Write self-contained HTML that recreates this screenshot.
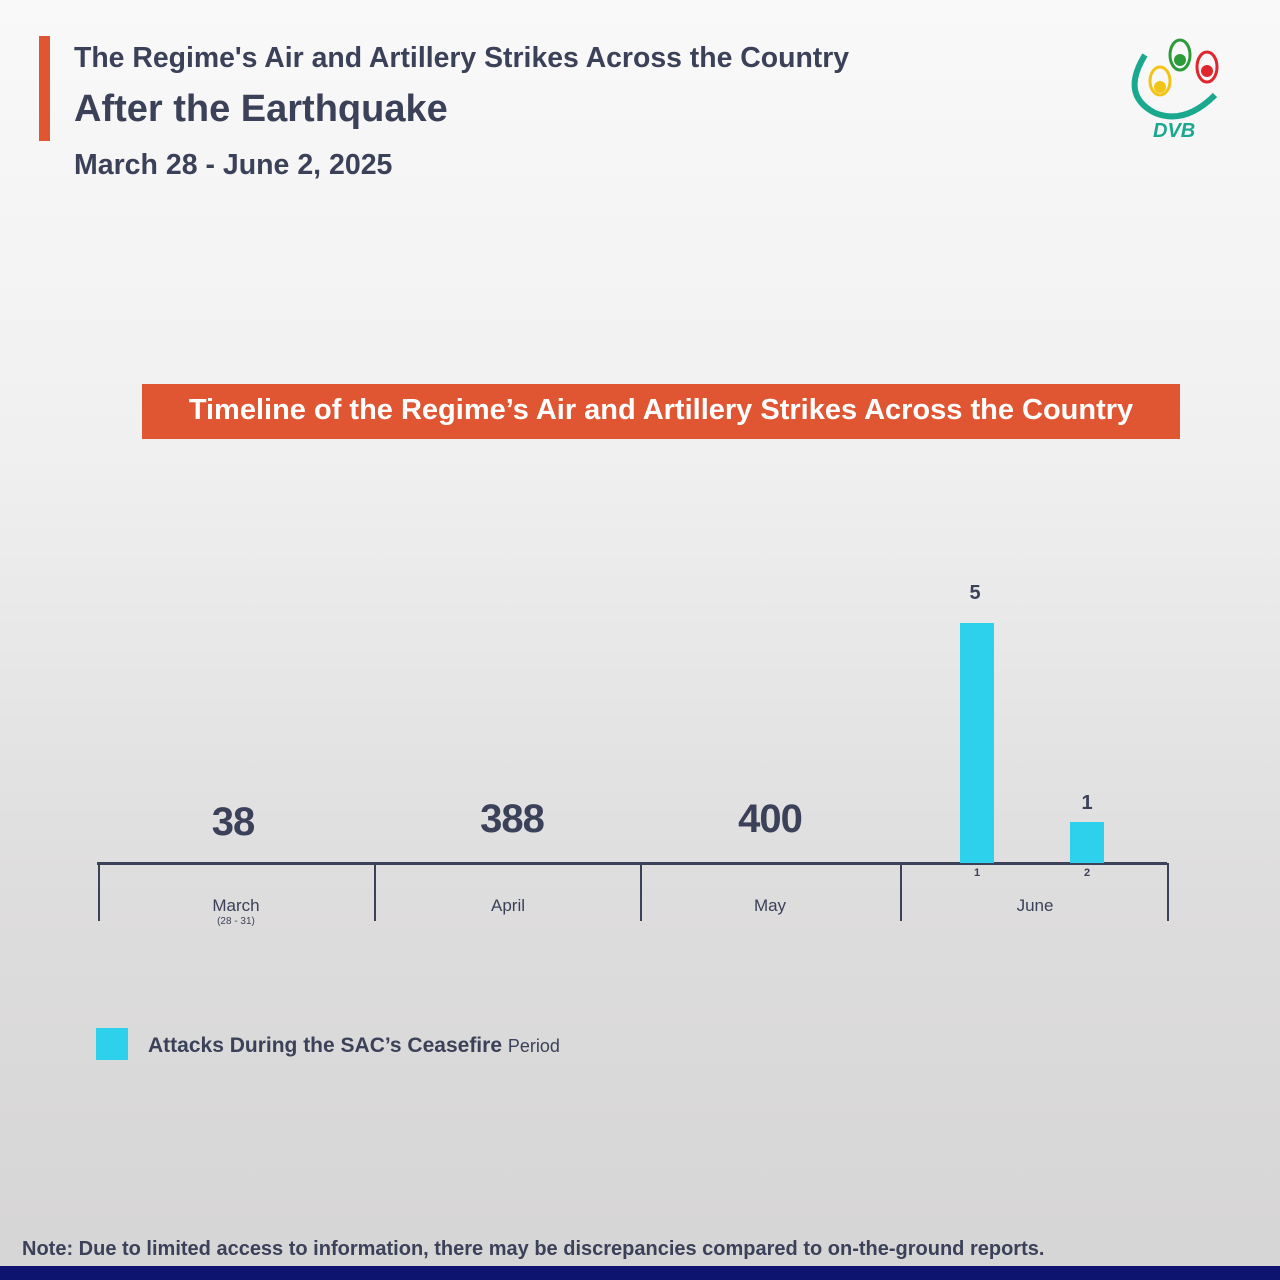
<!DOCTYPE html>
<html><head><style>
body{margin:0;width:1280px;height:1280px;position:relative;overflow:hidden;background:linear-gradient(#f9f9f9 0%,#f0f0f0 35%,#dedddd 70%,#d6d5d6 100%);font-family:"Liberation Sans",sans-serif;color:#3b4158}
.a{position:absolute}
.t{position:absolute;white-space:nowrap}
</style></head><body>
<div class="a" style="left:39px;top:36px;width:11px;height:105px;background:#e05633"></div>
<div class="t" style="left:74px;top:42px;font-size:28.4px;font-weight:bold">The Regime's Air and Artillery Strikes Across the Country</div>
<div class="t" style="left:74px;top:88px;font-size:38px;font-weight:bold">After the Earthquake</div>
<div class="t" style="left:74px;top:149px;font-size:28.5px;font-weight:bold">March 28 - June 2, 2025</div>
<svg class="a" style="left:1125px;top:35px" width="100" height="110">
<path d="M20 20 Q-5 60 30 78 Q60 90 90 60" stroke="#1aa88f" stroke-width="6" fill="none"/>
<ellipse cx="55" cy="20" rx="10" ry="15" stroke="#2c9c3a" stroke-width="3" fill="none"/><circle cx="55" cy="25" r="6" fill="#2c9c3a"/>
<ellipse cx="82" cy="32" rx="10" ry="15" stroke="#e0262d" stroke-width="3" fill="none"/><circle cx="82" cy="36" r="6" fill="#e0262d"/>
<ellipse cx="35" cy="46" rx="10" ry="14" stroke="#f2c417" stroke-width="3" fill="none"/><circle cx="35" cy="52" r="6" fill="#f2c417"/>
<text x="28" y="102" font-size="20" font-weight="bold" font-style="italic" fill="#1aa88f">DVB</text>
</svg>
<div class="a" style="left:142px;top:384px;width:1038px;height:55px;background:#e05633"></div>
<div class="t" style="left:142px;top:394px;width:1038px;text-align:center;color:#fff;font-size:29px;font-weight:bold">Timeline of the Regime’s Air and Artillery Strikes Across the Country</div>
<div class="a" style="left:97px;top:862px;width:1070px;height:3px;background:#3b4158"></div>
<div class="a" style="left:98px;top:863px;width:2px;height:58px;background:#3b4158"></div>
<div class="a" style="left:374px;top:863px;width:2px;height:58px;background:#3b4158"></div>
<div class="a" style="left:640px;top:863px;width:2px;height:58px;background:#3b4158"></div>
<div class="a" style="left:900px;top:863px;width:2px;height:58px;background:#3b4158"></div>
<div class="a" style="left:1167px;top:863px;width:2px;height:58px;background:#3b4158"></div>
<div class="a" style="left:960px;top:623px;width:34px;height:240px;background:#2ed1ec"></div>
<div class="a" style="left:1070px;top:822px;width:34px;height:41px;background:#2ed1ec"></div>
<div class="t" style="left:932px;top:582px;width:86px;text-align:center;font-size:20px;font-weight:bold">5</div>
<div class="t" style="left:1044px;top:792px;width:86px;text-align:center;font-size:20px;font-weight:bold">1</div>
<div class="t" style="left:934px;top:867px;width:86px;text-align:center;font-size:11px;font-weight:bold">1</div>
<div class="t" style="left:1044px;top:867px;width:86px;text-align:center;font-size:11px;font-weight:bold">2</div>
<div class="t" style="left:133px;top:800px;width:200px;text-align:center;font-size:40px;font-weight:bold;letter-spacing:-1px">38</div>
<div class="t" style="left:412px;top:797px;width:200px;text-align:center;font-size:40px;font-weight:bold;letter-spacing:-1px">388</div>
<div class="t" style="left:670px;top:797px;width:200px;text-align:center;font-size:40px;font-weight:bold;letter-spacing:-1px">400</div>
<div class="t" style="left:136px;top:896px;width:200px;text-align:center;font-size:17px">March</div>
<div class="t" style="left:136px;top:916px;width:200px;text-align:center;font-size:10px">(28 - 31)</div>
<div class="t" style="left:408px;top:896px;width:200px;text-align:center;font-size:17px">April</div>
<div class="t" style="left:670px;top:896px;width:200px;text-align:center;font-size:17px">May</div>
<div class="t" style="left:935px;top:896px;width:200px;text-align:center;font-size:17px">June</div>
<div class="a" style="left:96px;top:1028px;width:32px;height:32px;background:#2ed1ec"></div>
<div class="t" style="left:148px;top:1034px;font-size:21px;font-weight:bold">Attacks During the SAC’s Ceasefire <span style="font-size:18px;font-weight:normal">Period</span></div>
<div class="t" style="left:22px;top:1238px;font-size:20px;font-weight:bold">Note: Due to limited access to information, there may be discrepancies compared to on-the-ground reports.</div>
<div class="a" style="left:0;top:1266px;width:1280px;height:14px;background:#0d1470"></div>
</body></html>
